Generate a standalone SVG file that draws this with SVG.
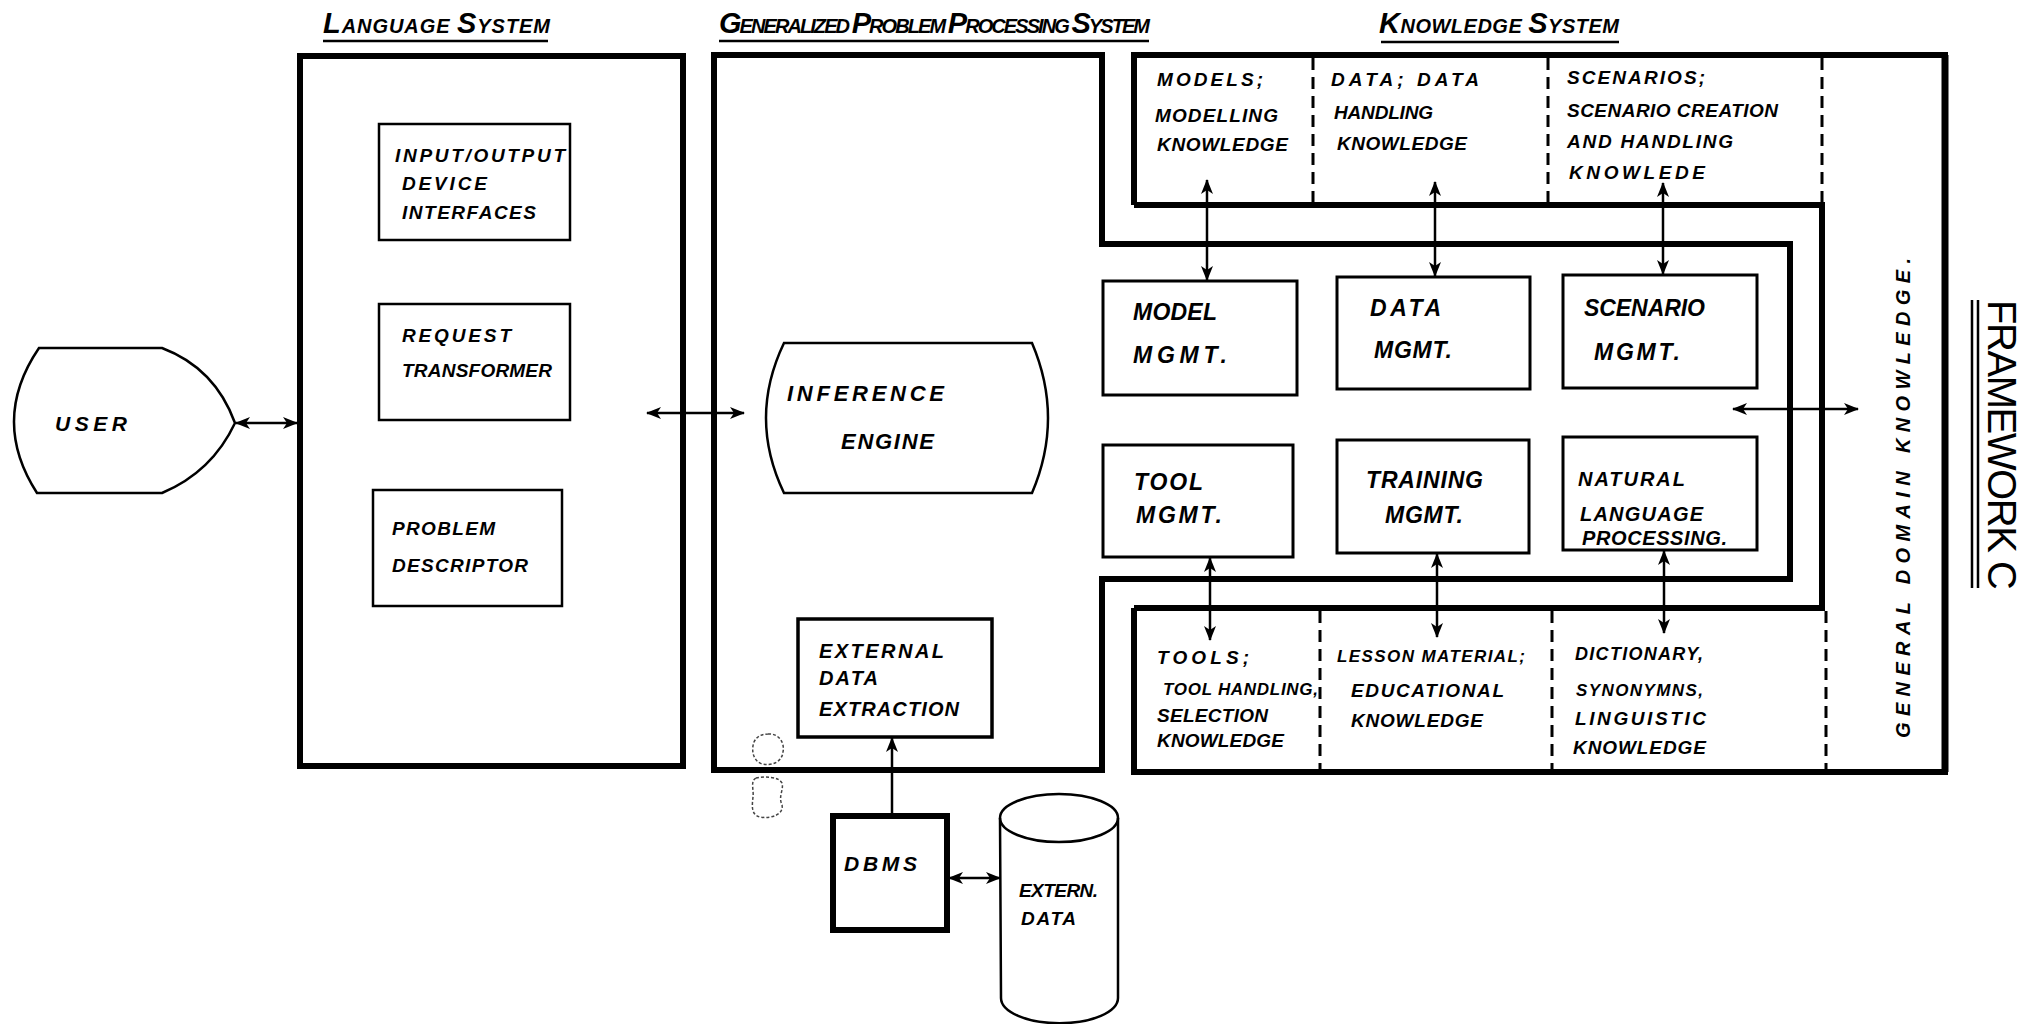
<svg xmlns="http://www.w3.org/2000/svg" width="2036" height="1024" viewBox="0 0 2036 1024">
  <defs>
    <style>
      .hand { font-family: "Liberation Sans", Arial, sans-serif; font-weight: bold; font-style: italic; fill: #000; }
      .k { font-size: 19px; }
      .m { font-size: 23px; }
      .title { font-family: "Liberation Sans", Arial, sans-serif; font-style: italic; font-weight: bold; fill: #000; }
      .big { font-size: 29px; }
      .small { font-size: 20px; }
      .thick { fill: none; stroke: #000; stroke-width: 6; stroke-linejoin: miter; }
      .box { fill: none; stroke: #000; stroke-width: 3; }
      .thin { fill: none; stroke: #000; stroke-width: 2.5; }
      .dash { fill: none; stroke: #000; stroke-width: 3; stroke-dasharray: 12 7; }
      .ul { stroke: #000; stroke-width: 2.5; }
      .conn { fill: none; stroke: #000; stroke-width: 2.5; }
      .blob { fill: none; stroke: #444; stroke-width: 1.5; stroke-dasharray: 3 2; }
    </style>
    <marker id="ah" viewBox="0 0 15 12" refX="14" refY="6" markerWidth="15" markerHeight="12" markerUnits="userSpaceOnUse" orient="auto-start-reverse">
      <path d="M0,0 L15,6 L0,12 L4,6 z" fill="#000"/>
    </marker>
  </defs>

  <rect x="0" y="0" width="2036" height="1024" fill="#fff"/>

  <!-- section headings -->
  <g id="titles">
    <text class="title" x="323" y="33" textLength="227" lengthAdjust="spacing"><tspan class="big">L</tspan><tspan class="small">ANGUAGE </tspan><tspan class="big">S</tspan><tspan class="small">YSTEM</tspan></text>
    <line class="ul" x1="323" y1="41" x2="548" y2="41"/>
    <text class="title" x="719" y="33" textLength="431" lengthAdjust="spacing"><tspan class="big">G</tspan><tspan class="small">ENERALIZED </tspan><tspan class="big">P</tspan><tspan class="small">ROBLEM </tspan><tspan class="big">P</tspan><tspan class="small">ROCESSING </tspan><tspan class="big">S</tspan><tspan class="small">YSTEM</tspan></text>
    <line class="ul" x1="719" y1="41" x2="1149" y2="41"/>
    <text class="title" x="1379" y="33" textLength="240" lengthAdjust="spacing"><tspan class="big">K</tspan><tspan class="small">NOWLEDGE </tspan><tspan class="big">S</tspan><tspan class="small">YSTEM</tspan></text>
    <line class="ul" x1="1381" y1="42" x2="1619" y2="42"/>
  </g>

  <!-- user terminal -->
  <g id="user">
    <path class="thin" d="M39,348 L162,348 Q215,368 235,423 Q212,472 162,493 L37,493 Q-10,420 39,348 Z"/>
    <text class="hand" x="55" y="431" font-size="21" textLength="72" lengthAdjust="spacing">USER</text>
  </g>

  <!-- language system -->
  <g id="language-system">
    <rect class="thick" x="300" y="56" width="383" height="710"/>
  </g>
  <g id="io-interfaces">
    <rect class="thin" x="379" y="124" width="191" height="116"/>
    <text class="hand k" x="395" y="162" textLength="170" lengthAdjust="spacing">INPUT/OUTPUT</text>
    <text class="hand k" x="402" y="190" textLength="85" lengthAdjust="spacing">DEVICE</text>
    <text class="hand k" x="402" y="219" textLength="134" lengthAdjust="spacing">INTERFACES</text>
  </g>
  <g id="request-transformer">
    <rect class="thin" x="379" y="304" width="191" height="116"/>
    <text class="hand k" x="402" y="342" textLength="109" lengthAdjust="spacing">REQUEST</text>
    <text class="hand k" x="402" y="377" textLength="150" lengthAdjust="spacing">TRANSFORMER</text>
  </g>
  <g id="problem-descriptor">
    <rect class="thin" x="373" y="490" width="189" height="116"/>
    <text class="hand k" x="392" y="535" textLength="103" lengthAdjust="spacing">PROBLEM</text>
    <text class="hand k" x="392" y="572" textLength="136" lengthAdjust="spacing">DESCRIPTOR</text>
  </g>

  <!-- generalized problem processing system -->
  <g id="gpps">
    <path class="thick" d="M714,55 H1102 V244 H1790 V579 H1102 V770 H714 Z"/>
  </g>
  <g id="inference-engine">
    <path class="thin" d="M784,343 L1032,343 Q1064,418 1032,493 L784,493 Q748,418 784,343 Z"/>
    <text class="hand" font-size="22" x="787" y="401" textLength="157" lengthAdjust="spacing">INFERENCE</text>
    <text class="hand" font-size="22" x="841" y="449" textLength="93" lengthAdjust="spacing">ENGINE</text>
  </g>
  <g id="external-data-extraction">
    <rect x="798" y="619" width="194" height="118" fill="none" stroke="#000" stroke-width="3.5"/>
    <text class="hand" font-size="20" x="819" y="658" textLength="125" lengthAdjust="spacing">EXTERNAL</text>
    <text class="hand" font-size="20" x="819" y="685" textLength="59" lengthAdjust="spacing">DATA</text>
    <text class="hand" font-size="20" x="819" y="716" textLength="140" lengthAdjust="spacing">EXTRACTION</text>
  </g>
  <g id="model-mgmt">
    <rect class="box" x="1103" y="281" width="194" height="114"/>
    <text class="hand m" x="1133" y="320" textLength="84" lengthAdjust="spacing">MODEL</text>
    <text class="hand m" x="1133" y="363" textLength="94" lengthAdjust="spacing">MGMT.</text>
  </g>
  <g id="data-mgmt">
    <rect class="box" x="1337" y="277" width="193" height="112"/>
    <text class="hand m" x="1370" y="316" textLength="71" lengthAdjust="spacing">DATA</text>
    <text class="hand m" x="1374" y="358" textLength="78" lengthAdjust="spacing">MGMT.</text>
  </g>
  <g id="scenario-mgmt">
    <rect class="box" x="1563" y="275" width="194" height="113"/>
    <text class="hand m" x="1584" y="316" textLength="121" lengthAdjust="spacing">SCENARIO</text>
    <text class="hand m" x="1594" y="360" textLength="86" lengthAdjust="spacing">MGMT.</text>
  </g>
  <g id="tool-mgmt">
    <rect class="box" x="1103" y="445" width="190" height="112"/>
    <text class="hand m" x="1134" y="490" textLength="69" lengthAdjust="spacing">TOOL</text>
    <text class="hand m" x="1136" y="523" textLength="86" lengthAdjust="spacing">MGMT.</text>
  </g>
  <g id="training-mgmt">
    <rect class="box" x="1337" y="440" width="192" height="113"/>
    <text class="hand m" x="1366" y="488" textLength="117" lengthAdjust="spacing">TRAINING</text>
    <text class="hand m" x="1385" y="523" textLength="78" lengthAdjust="spacing">MGMT.</text>
  </g>
  <g id="nl-processing">
    <rect class="box" x="1563" y="437" width="194" height="113"/>
    <text class="hand" font-size="20" x="1578" y="486" textLength="107" lengthAdjust="spacing">NATURAL</text>
    <text class="hand" font-size="20" x="1580" y="521" textLength="123" lengthAdjust="spacing">LANGUAGE</text>
    <text class="hand" font-size="20" x="1582" y="545" textLength="145" lengthAdjust="spacing">PROCESSING.</text>
  </g>

  <!-- knowledge system: wrap-around frame with its knowledge compartments -->
  <g id="knowledge-system">
    <path class="thick" d="M1134,205 V55 H1945 V772 H1134 V608"/>
    <line x1="1945" y1="55" x2="1945" y2="772" stroke="#000" stroke-width="7"/>
    <path class="thick" d="M1134,205 H1822 V608 H1134"/>
    <line class="dash" x1="1313" y1="58" x2="1313" y2="203"/>
    <line class="dash" x1="1548" y1="58" x2="1548" y2="203"/>
    <line class="dash" x1="1822" y1="58" x2="1822" y2="203"/>
    <line class="dash" x1="1320" y1="611" x2="1320" y2="770"/>
    <line class="dash" x1="1552" y1="611" x2="1552" y2="770"/>
    <line class="dash" x1="1826" y1="611" x2="1826" y2="770"/>
  </g>
  <g id="models-knowledge">
    <text class="hand k" x="1157" y="86" textLength="106" lengthAdjust="spacing">MODELS;</text>
    <text class="hand k" x="1155" y="122" textLength="123" lengthAdjust="spacing">MODELLING</text>
    <text class="hand k" x="1157" y="151" textLength="131" lengthAdjust="spacing">KNOWLEDGE</text>
  </g>
  <g id="data-knowledge">
    <text class="hand k" x="1331" y="86" textLength="148" lengthAdjust="spacing">DATA; DATA</text>
    <text class="hand k" x="1334" y="119" textLength="99" lengthAdjust="spacing">HANDLING</text>
    <text class="hand k" x="1337" y="150" textLength="130" lengthAdjust="spacing">KNOWLEDGE</text>
  </g>
  <g id="scenario-knowledge">
    <text class="hand k" x="1567" y="84" textLength="138" lengthAdjust="spacing">SCENARIOS;</text>
    <text class="hand k" x="1567" y="117" textLength="211" lengthAdjust="spacing">SCENARIO CREATION</text>
    <text class="hand k" x="1567" y="148" textLength="166" lengthAdjust="spacing">AND HANDLING</text>
    <text class="hand k" x="1569" y="179" textLength="136" lengthAdjust="spacing">KNOWLEDE</text>
  </g>
  <g id="tools-knowledge">
    <text class="hand k" x="1157" y="664" textLength="92" lengthAdjust="spacing">TOOLS;</text>
    <text class="hand" font-size="17" x="1163" y="695" textLength="155" lengthAdjust="spacing">TOOL HANDLING,</text>
    <text class="hand k" x="1157" y="722" textLength="111" lengthAdjust="spacing">SELECTION</text>
    <text class="hand k" x="1157" y="747" textLength="127" lengthAdjust="spacing">KNOWLEDGE</text>
  </g>
  <g id="lesson-knowledge">
    <text class="hand" font-size="17" x="1337" y="662" textLength="188" lengthAdjust="spacing">LESSON MATERIAL;</text>
    <text class="hand k" x="1351" y="697" textLength="153" lengthAdjust="spacing">EDUCATIONAL</text>
    <text class="hand k" x="1351" y="727" textLength="132" lengthAdjust="spacing">KNOWLEDGE</text>
  </g>
  <g id="linguistic-knowledge">
    <text class="hand" font-size="18" x="1575" y="660" textLength="128" lengthAdjust="spacing">DICTIONARY,</text>
    <text class="hand" font-size="17" x="1576" y="696" textLength="127" lengthAdjust="spacing">SYNONYMNS,</text>
    <text class="hand k" x="1575" y="725" textLength="131" lengthAdjust="spacing">LINGUISTIC</text>
    <text class="hand k" x="1573" y="754" textLength="133" lengthAdjust="spacing">KNOWLEDGE</text>
  </g>
  <g id="general-domain-knowledge">
    <text class="hand" font-size="20" transform="translate(1910,738) rotate(-90)" x="0" y="0" textLength="480" lengthAdjust="spacing">GENERAL DOMAIN KNOWLEDGE.</text>
  </g>

  <!-- external data source -->
  <g id="dbms">
    <rect class="thick" x="833" y="816" width="114" height="114"/>
    <text class="hand" font-size="21" x="844" y="871" textLength="73" lengthAdjust="spacing">DBMS</text>
  </g>
  <g id="extern-data">
    <ellipse class="thin" cx="1059" cy="818" rx="59" ry="24"/>
    <path class="thin" d="M1000,818 L1001,998 A58,25 0 0 0 1118,998 L1118,818"/>
    <text class="hand k" x="1019" y="897" textLength="79" lengthAdjust="spacing">EXTERN.</text>
    <text class="hand k" x="1021" y="925" textLength="55" lengthAdjust="spacing">DATA</text>
  </g>

  <!-- faint smudge outlines below the processing system -->
  <g id="smudges">
    <path class="blob" d="M768,734 C778,733 785,742 783,752 C782,762 772,766 762,764 C753,761 751,750 754,742 C757,736 762,734 768,734 Z"/>
    <path class="blob" d="M756,778 C766,776 779,777 782,783 C784,790 778,796 782,805 C784,814 772,819 760,817 C751,815 752,806 753,797 C754,790 750,781 756,778 Z"/>
  </g>

  <!-- framework label -->
  <g id="framework-label">
    <line class="ul" x1="1972" y1="300" x2="1972" y2="588"/>
    <line class="ul" x1="1978" y1="300" x2="1978" y2="588"/>
    <text transform="translate(1988,300) rotate(90)" x="0" y="0" font-family="Liberation Sans, Arial, sans-serif" font-size="40" textLength="290" lengthAdjust="spacing" fill="#000">FRAMEWORK C</text>
  </g>

  <!-- connectors -->
  <g id="connectors">
    <line class="conn" x1="236" y1="423" x2="297" y2="423" marker-start="url(#ah)" marker-end="url(#ah)"/>
    <line class="conn" x1="647" y1="413" x2="744" y2="413" marker-start="url(#ah)" marker-end="url(#ah)"/>
    <line class="conn" x1="1207" y1="180" x2="1207" y2="280" marker-start="url(#ah)" marker-end="url(#ah)"/>
    <line class="conn" x1="1435" y1="182" x2="1435" y2="276" marker-start="url(#ah)" marker-end="url(#ah)"/>
    <line class="conn" x1="1663" y1="183" x2="1663" y2="274" marker-start="url(#ah)" marker-end="url(#ah)"/>
    <line class="conn" x1="1210" y1="558" x2="1210" y2="640" marker-start="url(#ah)" marker-end="url(#ah)"/>
    <line class="conn" x1="1437" y1="554" x2="1437" y2="637" marker-start="url(#ah)" marker-end="url(#ah)"/>
    <line class="conn" x1="1664" y1="551" x2="1664" y2="633" marker-start="url(#ah)" marker-end="url(#ah)"/>
    <line class="conn" x1="1733" y1="409" x2="1858" y2="409" marker-start="url(#ah)" marker-end="url(#ah)"/>
    <line class="conn" x1="892" y1="815" x2="892" y2="738" marker-end="url(#ah)"/>
    <line class="conn" x1="949" y1="878" x2="1000" y2="878" marker-start="url(#ah)" marker-end="url(#ah)"/>
  </g>
</svg>
